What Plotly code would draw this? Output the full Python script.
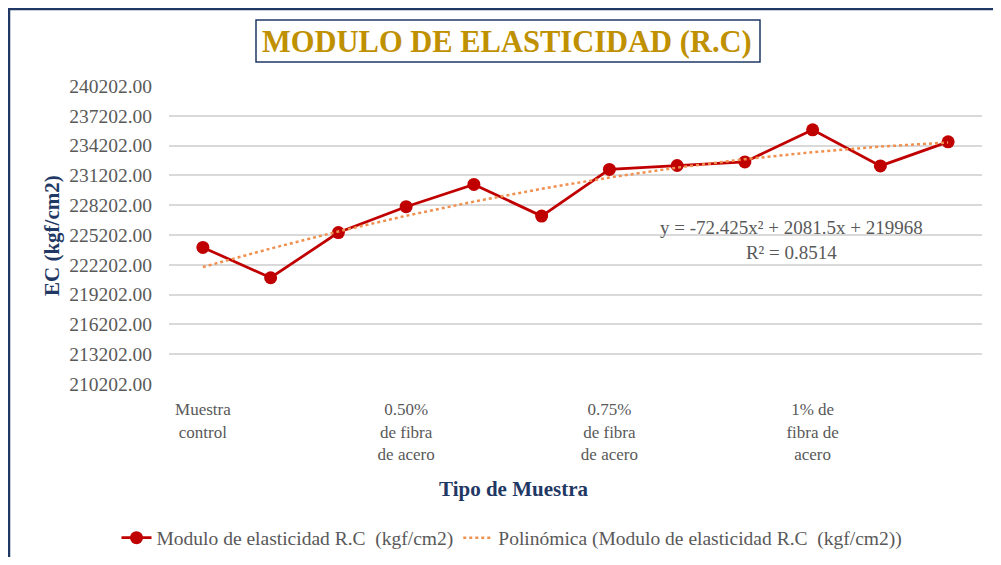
import plotly.graph_objects as go

# ---- data ----
sample_index = [1, 2, 3, 4, 5, 6, 7, 8, 9, 10, 11, 12]
ec_values = [223950, 220900, 225450, 228050, 230290, 227110, 231800, 232200, 232560, 235790, 232160, 234580]
tick_positions = [1, 4, 7, 10]
tick_labels = ["Muestra<br>control", "0.50%<br>de fibra<br>de acero", "0.75%<br>de fibra<br>de acero", "1% de<br>fibra de<br>acero"]
y_ticks = [210202 + 3000 * i for i in range(11)]
# trendline coefficients as shown on the chart
coef_a, coef_b, coef_c = -72.425, 2081.5, 219968
trend_values = [coef_a * x * x + coef_b * x + coef_c for x in sample_index]

GRAY = "#595959"
NAVY = "#1F3864"
SERIF = "Liberation Serif, Times New Roman, serif"

# page body has an 8px margin; work in screen pixels and convert
OFF = 8
W, H = 1001 - 2 * OFF, 565 - 2 * OFF
PL, PR, PT, PB = 169, 982, 86, 384          # plot area in screen pixels
L, R, T, B = PL - OFF, W - (PR - OFF), PT - OFF, H - (PB - OFF)
pw, ph = W - L - R, H - T - B


def px_x(p):
    return (p - PL) / pw


def px_y(p):
    return (PB - p) / ph


fig = go.Figure()
fig.add_trace(go.Scatter(
    x=sample_index, y=ec_values, mode="lines+markers",
    name="Modulo de elasticidad R.C  (kgf/cm2)",
    line=dict(color="#C00000", width=2.75),
    marker=dict(color="#C00000", size=13),
))
fig.add_trace(go.Scatter(
    x=sample_index, y=trend_values, mode="lines",
    name="Polinómica (Modulo de elasticidad R.C  (kgf/cm2))",
    line=dict(color="#F0904F", width=2.5, dash="dot"),
))

fig.update_layout(
    width=W, height=H,
    margin=dict(l=L, r=R, t=T, b=B, autoexpand=False),
    paper_bgcolor="white", plot_bgcolor="white",
    font=dict(family=SERIF, color=GRAY, size=18),
    showlegend=True,
    legend=dict(orientation="h", x=px_x(512), xanchor="center", y=px_y(538), yanchor="middle",
                font=dict(family=SERIF, size=19.5, color=GRAY), tracegroupgap=0),
    xaxis=dict(range=[0.5, 12.5], tickvals=tick_positions, ticktext=tick_labels,
               showgrid=False, zeroline=False, showline=False, automargin=False,
               ticks="outside", ticklen=10, tickcolor="rgba(0,0,0,0)",
               tickfont=dict(family=SERIF, size=17, color=GRAY)),
    yaxis=dict(range=[210202, 240202], tickvals=y_ticks, tickformat=".2f",
               showgrid=True, gridcolor="#D9D9D9", gridwidth=1.5, automargin=False,
               zeroline=False, showline=False,
               ticks="outside", ticklen=12, tickcolor="rgba(0,0,0,0)",
               tickfont=dict(family=SERIF, size=19.5, color=GRAY)),
)

annotations = [
    dict(text="<b>MODULO DE ELASTICIDAD (R.C)</b>", x=px_x(507), y=px_y(42), xref="paper", yref="paper",
         xanchor="center", yanchor="middle", showarrow=False,
         font=dict(family=SERIF, size=30.5, color="#BF9000")),
    dict(text="<b>EC (kgf/cm2)</b>", x=px_x(52), y=px_y(236), xref="paper", yref="paper",
         xanchor="center", yanchor="middle", showarrow=False, textangle=-90,
         font=dict(family=SERIF, size=21, color=NAVY)),
    dict(text="<b>Tipo de Muestra</b>", x=px_x(513), y=px_y(489), xref="paper", yref="paper",
         xanchor="center", yanchor="middle", showarrow=False,
         font=dict(family=SERIF, size=21, color=NAVY)),
    dict(text="y = -72.425x² + 2081.5x + 219968<br>R² = 0.8514", x=px_x(791), y=px_y(240),
         xref="paper", yref="paper", xanchor="center", yanchor="middle", showarrow=False,
         font=dict(family=SERIF, size=19, color=GRAY)),
]
fig.update_layout(annotations=annotations)

# title box
fig.add_shape(type="rect", xref="paper", yref="paper",
              x0=px_x(256), x1=px_x(760), y0=px_y(62), y1=px_y(20),
              line=dict(color=NAVY, width=1.5), fillcolor="rgba(0,0,0,0)", layer="above")
# chart outer border (left and top visible)
fig.add_shape(type="rect", xref="paper", yref="paper",
              x0=px_x(9), x1=px_x(1030), y0=px_y(600), y1=px_y(9),
              line=dict(color=NAVY, width=2.5), fillcolor="rgba(0,0,0,0)", layer="above")

fig.write_html("out.html")
